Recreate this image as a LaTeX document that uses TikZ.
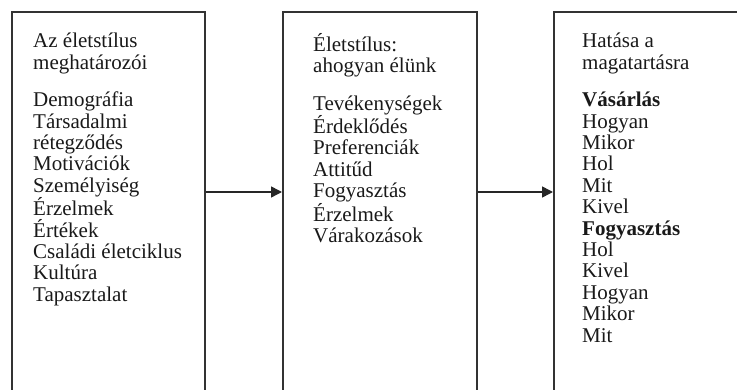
\documentclass[tikz,border=0pt]{standalone}
\usepackage{fontspec}
\setmainfont{Liberation Serif}
\usetikzlibrary{arrows.meta}
\begin{document}
\begin{tikzpicture}[x=1pt,y=1pt,
  boxstyle/.style={draw=black!80,line width=1.6pt,minimum height=400pt,anchor=north west,inner sep=0pt},
  txt/.style={anchor=north west,align=left,inner sep=0pt,font=\fontsize{21}{21.4}\selectfont,text=black!90},
  arr/.style={draw=black!85,line width=1.5pt,-{Triangle[length=11pt,width=11pt]}}]
\useasboundingbox (0,0) rectangle (737,-390);
\begin{scope}
\clip (0,0) rectangle (737,-390);
\node[boxstyle,minimum width=193pt] (b1) at (11,-11) {};
\node[boxstyle,minimum width=194pt] (b2) at (282,-11) {};
\node[boxstyle,minimum width=200pt] (b3) at (553,-11) {};
\end{scope}
\node[txt] (t1) at (33,-33) {Az életstílus\\meghatározói\\[16pt]Demográfia\\Társadalmi\\rétegződés\\Motivációk\\Személyiség\\Érzelmek\\Értékek\\Családi életciklus\\Kultúra\\Tapasztalat};
\node[txt] (t2) at (313,-33) {Életstílus:\\ahogyan élünk\\[16pt]Tevékenységek\\Érdeklődés\\Preferenciák\\Attitűd\\Fogyasztás\\Érzelmek\\Várakozások};
\node[txt] (t3) at (582,-33) {Hatása a\\magatartásra\\[16pt]\textbf{Vásárlás}\\Hogyan\\Mikor\\Hol\\Mit\\Kivel\\\textbf{Fogyasztás}\\Hol\\Kivel\\Hogyan\\Mikor\\Mit};
\coordinate (ay) at (0,-192);
\draw[arr] (b1.east |- ay) -- (b2.west |- ay);
\draw[arr] (b2.east |- ay) -- (b3.west |- ay);
\end{tikzpicture}
\end{document}
